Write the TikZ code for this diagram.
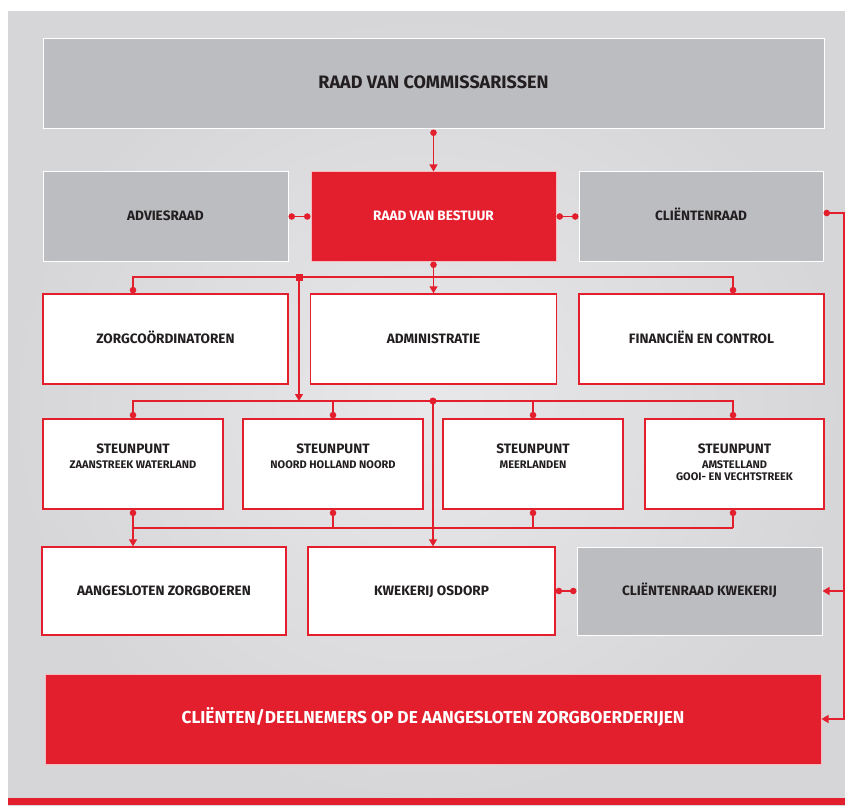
\documentclass[tikz,border=0pt]{standalone}
\usepackage{xcolor}
\usepackage{fontspec}
\setmainfont{Fira Sans}
\usepackage{tikz}
\usetikzlibrary{arrows.meta,calc}

\definecolor{orgred}{HTML}{E31E2D}
\definecolor{orggray}{HTML}{BCBDC1}
\definecolor{bgdark}{HTML}{D6D6D8}
\definecolor{bglight}{HTML}{E8E8EA}
\definecolor{orgtext}{HTML}{231F20}

\tikzset{
  box/.style={rectangle, inner sep=0pt, align=center, text=orgtext,
    font=\bfseries\fontsize{13.6}{16}\selectfont},
  oneline/.style={text height=0.88em, text depth=0pt},
  graybox/.style={box, oneline, fill=orggray, draw=white, line width=1pt},
  redbox/.style={box, oneline, fill=orgred, draw=white!70!orgred, line width=1pt, text=white},
  whitebox/.style={box, oneline, fill=white, draw=orgred, line width=1.3pt},
  spbox/.style={box, fill=white, draw=orgred, line width=1.3pt},
  link/.style={draw=orgred, line width=1.3pt},
  rdot/.tip={Circle[length=6.5pt]},
  rarr/.tip={Triangle[length=7pt,width=8pt]},
}

\newcommand{\sptext}[1]{\parbox[c][40pt][t]{176pt}{\centering
  STEUNPUNT\par\vspace{2.5pt}\fontsize{11}{12}\selectfont #1\par}}

\begin{document}
\begin{tikzpicture}[x=1pt,y=-1pt]
% Background
\useasboundingbox (0,0) rectangle (845,805);
\shade[inner color=bglight, outer color=bgdark] (8,12) rectangle (845,805);
\fill[orgred] (8,798) rectangle (845,805);

% Board
\node[graybox, minimum width=781pt, minimum height=90pt,
  font=\bfseries\fontsize{18}{20}\selectfont] (rvc) at (433.5,84) {RAAD VAN COMMISSARISSEN};
\node[graybox, minimum width=245pt, minimum height=89pt] (advies) at (165.5,216.5) {ADVIESRAAD};
\node[redbox, minimum width=245pt, minimum height=89pt] (rvb) at (433.5,216.5) {RAAD VAN BESTUUR};
\node[graybox, minimum width=244pt, minimum height=89pt] (clraad) at (701,216.5) {CLIËNTENRAAD};

% Staff
\node[whitebox, minimum width=245pt, minimum height=90pt] (zorg) at (165.5,339) {ZORGCOÖRDINATOREN};
\node[whitebox, minimum width=246pt, minimum height=90pt] (admin) at (433.5,339) {ADMINISTRATIE};
\node[whitebox, minimum width=245pt, minimum height=90pt] (fin) at (701.5,339) {FINANCIËN EN CONTROL};

% Steunpunten
\node[spbox, minimum width=180pt, minimum height=90pt] (sp1) at (133,464) {\sptext{ZAANSTREEK WATERLAND}};
\node[spbox, minimum width=180pt, minimum height=90pt] (sp2) at (333,464) {\sptext{NOORD HOLLAND NOORD}};
\node[spbox, minimum width=180pt, minimum height=90pt] (sp3) at (533,464) {\sptext{MEERLANDEN}};
\node[spbox, minimum width=179pt, minimum height=90pt] (sp4) at (734.5,464) {\sptext{AMSTELLAND\\GOOI- EN VECHTSTREEK}};

% Farms
\node[whitebox, minimum width=244pt, minimum height=88pt] (aang) at (164,591) {AANGESLOTEN ZORGBOEREN};
\node[whitebox, minimum width=247pt, minimum height=88pt] (kwek) at (431.5,591) {KWEKERIJ OSDORP};
\node[graybox, minimum width=245pt, minimum height=88pt] (clkw) at (699.5,591) {CLIËNTENRAAD KWEKERIJ};
\node[redbox, minimum width=776pt, minimum height=90pt,
  font=\bfseries\fontsize{17.3}{20}\selectfont] (clienten) at (433,719) {CLIËNTEN/DEELNEMERS OP DE AANGESLOTEN ZORGBOERDERIJEN};

% Bus lines
\coordinate (bus1w) at (133,277);
\coordinate (bus1e) at (733,277);
\coordinate (bus1j) at (299,277);
\coordinate (bus2w) at (133,401);
\coordinate (bus2e) at (733,401);
\coordinate (bus2j) at (433,401);
\coordinate (bus3w) at (133,528);
\coordinate (bus3e) at (733,528);
\coordinate (rside) at (844,213);

% Connectors top
\draw[link,{rdot}-{rarr}] (rvc.south) -- (rvb.north);
\draw[link,{rdot}-{rdot}] (rvb.west) -- (advies.east);
\draw[link,{rdot}-{rdot}] (rvb.east) -- (clraad.west);
\draw[link,{rdot}-{rdot}] (zorg.north -| bus1w) -- (bus1w) -- (bus1e) -- (fin.north -| bus1e);
\draw[link,{rdot}-{rarr}] (rvb.south) -- (admin.north);
\fill[orgred] (bus1j) +(-3.5,-3.5) rectangle +(3.5,3.5);
\draw[link,-{rarr}] (bus1j) -- (bus1j |- bus2w);

% Connectors steunpunten
\draw[link,{rdot}-{rdot}] (sp1.north) -- (bus2w) -- (bus2e) -- (sp4.north -| bus2e);
\draw[link,-{rdot}] (sp2.north |- bus2w) -- (sp2.north);
\draw[link,-{rdot}] (sp3.north |- bus2w) -- (sp3.north);
\fill[orgred] (bus2j) circle (3.5pt);
\draw[link,-{rarr}] (bus2j) -- (bus2j |- kwek.north);

\draw[link] (bus3w) -- (bus3e);
\draw[link,{rdot}-{rarr}] (sp1.south) -- (sp1.south |- aang.north);
\draw[link,{rdot}-] (sp2.south) -- (sp2.south |- bus3w);
\draw[link,{rdot}-] (sp3.south) -- (sp3.south |- bus3w);
\draw[link,{rdot}-] (sp4.south -| bus3e) -- (bus3e);

% Clientenraden
\draw[link,{rdot}-{rdot}] (kwek.east) -- (clkw.west);
\draw[link,{rdot}-{rarr}] (clraad.east |- rside) -- (rside) |- (clienten.east);
\draw[link,-{rarr}] (rside |- clkw.east) -- (clkw.east);
\end{tikzpicture}
\end{document}
